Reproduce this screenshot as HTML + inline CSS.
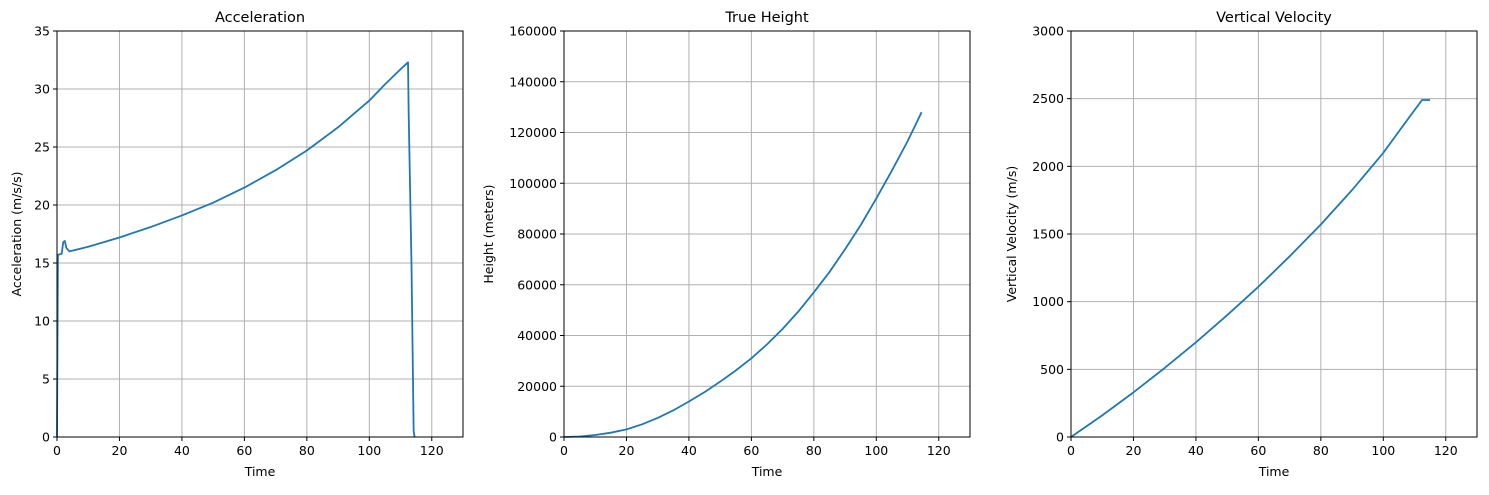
<!DOCTYPE html>
<html><head><meta charset="utf-8"><style>
body{margin:0;background:#fff;font-family:"Liberation Sans","DejaVu Sans",sans-serif}
svg text{font-family:"DejaVu Sans","Liberation Sans",sans-serif;fill:#000}
</style></head><body>
<svg id="fig" width="1489" height="490"></svg>
<script>
const accT=[0,0.3,1.5,2,2.5,3,4,10,20,30,40,50,60,70,80,90,100,105,110,112.4,112.6,113.5,114.2,114.5];
const accV=[0,15.7,15.8,16.8,16.9,16.3,16.0,16.4,17.2,18.1,19.1,20.2,21.5,23.0,24.7,26.7,29.0,30.4,31.7,32.3,28,15,0.5,0];
const hT=[0,5,10,15,20,25,30,35,40,45,50,55,60,65,70,75,80,85,90,95,100,105,110,114.5];
const hV=[0,200,800,1700,3000,5000,7500,10500,14000,17700,21800,26200,31000,36500,42600,49400,57000,65000,74000,83500,94000,105000,116500,128000];
const vT=[0,10,20,30,40,50,60,70,80,90,100,106,112.4,115];
const vV=[0,160,330,510,700,900,1110,1335,1570,1825,2100,2290,2490,2490];
const xTicks=[0,20,40,60,80,100,120];
const accTicks=[0,5,10,15,20,25,30,35];
const hTicks=[0,20000,40000,60000,80000,100000,120000,140000,160000];
const vTicks=[0,500,1000,1500,2000,2500,3000];
const NS="http://www.w3.org/2000/svg";
const svg=document.getElementById('fig');
function mk(tag,a,p){const e=document.createElementNS(NS,tag);for(const k in a)e.setAttribute(k,a[k]);(p||svg).appendChild(e);return e;}
function panel(name,x0,title,ylabel,xs,ys,yt,ymax,lx){
  const y0=31,w=406,h=406;
  const g=mk('g',{});
  
  
  const sx=v=>x0+v/130*w, sy=v=>y0+h-v/ymax*h;
  xTicks.forEach(t=>{
    const gl=mk('line',{x1:sx(t),x2:sx(t),y1:y0,y2:y0+h,stroke:'#b0b0b0','stroke-width':1},g);
    
    mk('line',{x1:sx(t),x2:sx(t),y1:y0+h,y2:y0+h+4,stroke:'#000'},g);
    const tx=mk('text',{x:sx(t),y:y0+h+18,'text-anchor':'middle','font-size':12.5},g);tx.textContent=t;
    
  });
  yt.forEach(t=>{
    const gl=mk('line',{x1:x0,x2:x0+w,y1:sy(t),y2:sy(t),stroke:'#b0b0b0','stroke-width':1},g);
    
    mk('line',{x1:x0-4,x2:x0,y1:sy(t),y2:sy(t),stroke:'#000'},g);
    const tx=mk('text',{x:x0-7,y:sy(t)+4.5,'text-anchor':'end','font-size':12.5},g);tx.textContent=t;
    
  });
  const d=xs.map((t,i)=>(i?'L':'M')+sx(t).toFixed(2)+','+sy(ys[i]).toFixed(2)).join('');
  const p=mk('path',{d:d,fill:'none',stroke:'#1f77b4','stroke-width':1.8,'stroke-linejoin':'round'},g);
  
  const fr=mk('rect',{x:x0,y:y0,width:w,height:h,fill:'none',stroke:'#000','stroke-width':1},g);
  
  const ti=mk('text',{x:x0+w/2,y:22,'text-anchor':'middle','font-size':14.5},g);ti.textContent=title;
  
  const xl=mk('text',{x:x0+w/2,y:476,'text-anchor':'middle','font-size':12.5},g);xl.textContent='Time';
  
  const yl=mk('text',{x:lx,y:y0+h/2,'text-anchor':'middle','font-size':12.5,transform:`rotate(-90 ${lx} ${y0+h/2})`},g);yl.textContent=ylabel;
  
}
panel('acceleration',57,'Acceleration','Acceleration (m/s/s)',accT,accV,accTicks,35,21);
panel('height',564,'True Height','Height (meters)',hT,hV,hTicks,160000,493);
panel('velocity',1071,'Vertical Velocity','Vertical Velocity (m/s)',vT,vV,vTicks,3000,1016);
</script>
</body></html>
